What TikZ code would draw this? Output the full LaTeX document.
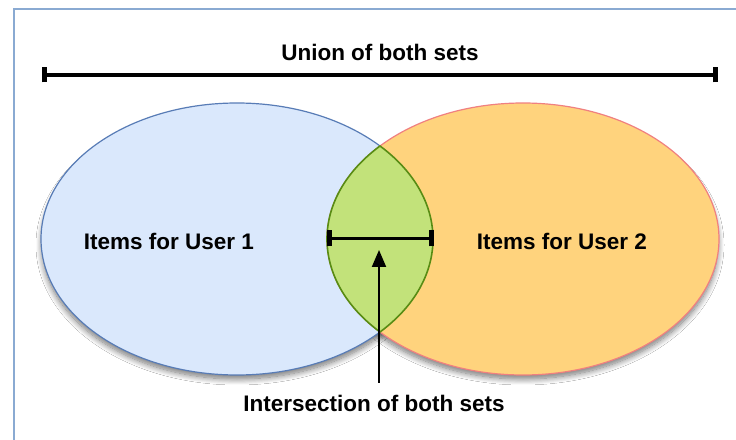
\documentclass[tikz,border=0pt]{standalone}
\usepackage{fontspec}
\setmainfont{Liberation Sans}
\usetikzlibrary{shapes.geometric,arrows.meta,shadows.blur}
\definecolor{frameblue}{RGB}{138,170,210}
\definecolor{bluefill}{RGB}{218,232,252}
\definecolor{bluedraw}{RGB}{88,124,182}
\definecolor{orangefill}{RGB}{255,211,125}
\definecolor{orangedraw}{RGB}{240,128,128}
\definecolor{greenfill}{RGB}{194,226,122}
\definecolor{greendraw}{RGB}{88,140,20}
\tikzset{
  x=1pt, y=1pt,
  setshape/.style={ellipse, minimum width=392pt, minimum height=272pt, inner sep=0pt, line width=1.2pt},
  lbl/.style={font=\fontsize{22.5}{27}\selectfont\bfseries, text=black, inner sep=0pt},
  barline/.style={line width=3.5pt},
  tickline/.style={line width=5pt},
  shadowpart/.style={blur shadow={shadow xshift=0pt, shadow yshift=-6pt, shadow blur steps=12, shadow blur radius=6pt, shadow opacity=55}}
}
\begin{document}
\begin{tikzpicture}
\useasboundingbox (0,0) rectangle (736,439);
\fill[white] (0,0) rectangle (736,439);
\begin{scope}
\clip (0,0) rectangle (736,439);
\draw[frameblue, line width=2pt] (14,430) rectangle (800,-50);
\end{scope}
% shadows
\path[shadowpart] (237,200) ellipse [x radius=195, y radius=134];
\path[shadowpart] (523,200) ellipse [x radius=195, y radius=134];
% sets
\node[setshape, fill=bluefill, draw=bluedraw] (u1) at (237,200) {};
\node[setshape, fill=orangefill, draw=orangedraw] (u2) at (523,200) {};
% lens
\path[fill=greenfill, draw=greendraw, line width=1.6pt]
  (237,200) ++(43.15:196 and 136) coordinate (ltop)
  arc[start angle=43.15, end angle=-43.15, x radius=196, y radius=136] coordinate (lbot)
  arc[start angle=223.15, end angle=136.85, x radius=196, y radius=136] -- cycle;
% labels
\node[lbl] (t1) at (169,198) {Items for User 1};
\node[lbl] (t2) at (562,198) {Items for User 2};
\node[lbl] (union) at (380,387) {Union of both sets};
\node[lbl] (inter) at (374,36) {Intersection of both sets};
% union bar
\coordinate (ua) at (44,364);
\coordinate (ub) at (715,364);
\draw[barline] (ua) -- (ub);
\draw[tickline] ([yshift=-7.5pt]ua) -- ([yshift=7.5pt]ua);
\draw[tickline] ([yshift=-7.5pt]ub) -- ([yshift=7.5pt]ub);
% intersection bar
\coordinate (ia) at (329,200.7);
\coordinate (ib) at (431,200.7);
\draw[barline] (ia) -- (ib);
\draw[tickline] ([yshift=-8pt]ia) -- ([yshift=8pt]ia);
\draw[tickline] ([yshift=-8pt]ib) -- ([yshift=8pt]ib);
% arrow
\coordinate (as) at (379,56);
\coordinate (ae) at (379,189);
\draw[line width=2pt, -{Triangle[length=17pt, width=14pt, fill=black]}] (as) -- (ae);
\end{tikzpicture}
\end{document}
